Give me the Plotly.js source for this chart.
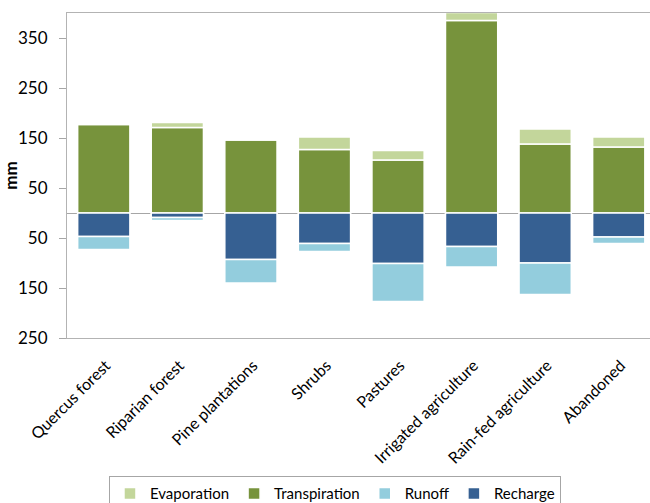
<!DOCTYPE html>
<html>
<head>
<meta charset="utf-8">
<script src="https://cdn.plot.ly/plotly-3.0.1.min.js"></script>
<style>html,body{margin:0;padding:0;background:#fff;}#chart{width:650px;height:503px;}</style>
</head>
<body>
<div id="chart"></div>
<script>
const categories = ["Quercus forest","Riparian forest","Pine plantations","Shrubs","Pastures","Irrigated agriculture","Rain-fed agriculture","Abandoned"];
const transpiration = [177, 171, 146, 127, 106, 385, 138, 132];
const evaporation  = [3, 10, 0, 25, 19, 16, 30, 20];
const recharge     = [47, 9, 93, 61, 101, 67, 100, 48];
const runoff       = [26, 6, 47, 16, 76, 41, 63, 13];
const yTickVals = [-250, -150, -50, 50, 150, 250, 350];
const yTickText = yTickVals.map(v => String(Math.abs(v)));

const FONT = "Lato, 'Open Sans', sans-serif";
const outline = {color: "#ffffff", width: 1.5};

const traces = [
  {name: "Transpiration", x: categories, y: transpiration, type: "bar", marker: {color: "#77933C", line: outline}, legendrank: 2},
  {name: "Evaporation", x: categories, y: evaporation, type: "bar", marker: {color: "#C3D69B", line: outline}, legendrank: 1},
  {name: "Recharge", x: categories, y: recharge.map(v => -v), type: "bar", marker: {color: "#366092", line: outline}, legendrank: 4},
  {name: "Runoff", x: categories, y: runoff.map(v => -v), type: "bar", marker: {color: "#93CDDD", line: outline}, legendrank: 3}
];

const xMax = 7.425;
const boundaries = categories.slice(0, -1).map((_, i) => i + 0.5);

const layout = {
  width: 650, height: 503,
  margin: {l: 67, r: 0, t: 13, b: 165, autoexpand: false},
  barmode: "relative",
  bargap: 0.29,
  paper_bgcolor: "#ffffff", plot_bgcolor: "#ffffff",
  font: {family: FONT, color: "#000000", size: 14},
  showlegend: true,
  legend: {
    orientation: "h", x: 0.072, xanchor: "left", y: -0.425, yanchor: "top",
    bordercolor: "#A6A6A6", borderwidth: 1, font: {size: 15, family: FONT},
    traceorder: "normal", itemclick: false
  },
  xaxis: {
    type: "category", categoryorder: "array", categoryarray: categories,
    range: [-0.5, xMax], tickangle: -45, ticks: "", showgrid: false,
    showline: true, linecolor: "#B3B3B3", linewidth: 1, mirror: true,
    automargin: false, ticklabelshift: 2, ticklabelstandoff: 11,
    tickfont: {size: 16, family: FONT}, fixedrange: true
  },
  xaxis2: {
    overlaying: "x", anchor: "free", position: 250 / 650,
    range: [-0.5, xMax], tickvals: boundaries, ticks: "outside", ticklen: 5,
    tickcolor: "#A6A6A6", showticklabels: false, showgrid: false, showline: false, zeroline: false
  },
  yaxis: {
    range: [-250, 400], tickvals: yTickVals, ticktext: yTickText,
    ticks: "outside", ticklen: 7, tickcolor: "#A6A6A6",
    ticklabelstandoff: 8, automargin: false,
    showgrid: false, showline: true, linecolor: "#B3B3B3", linewidth: 1,
    zeroline: true, zerolinecolor: "#A6A6A6", zerolinewidth: 1,
    tickfont: {size: 17, family: FONT},
    title: {text: "<b>mm</b>", font: {size: 17, family: FONT}, standoff: 8}
  }
};

Plotly.newPlot("chart", traces, layout, {displayModeBar: false, staticPlot: true});
</script>
</body>
</html>
